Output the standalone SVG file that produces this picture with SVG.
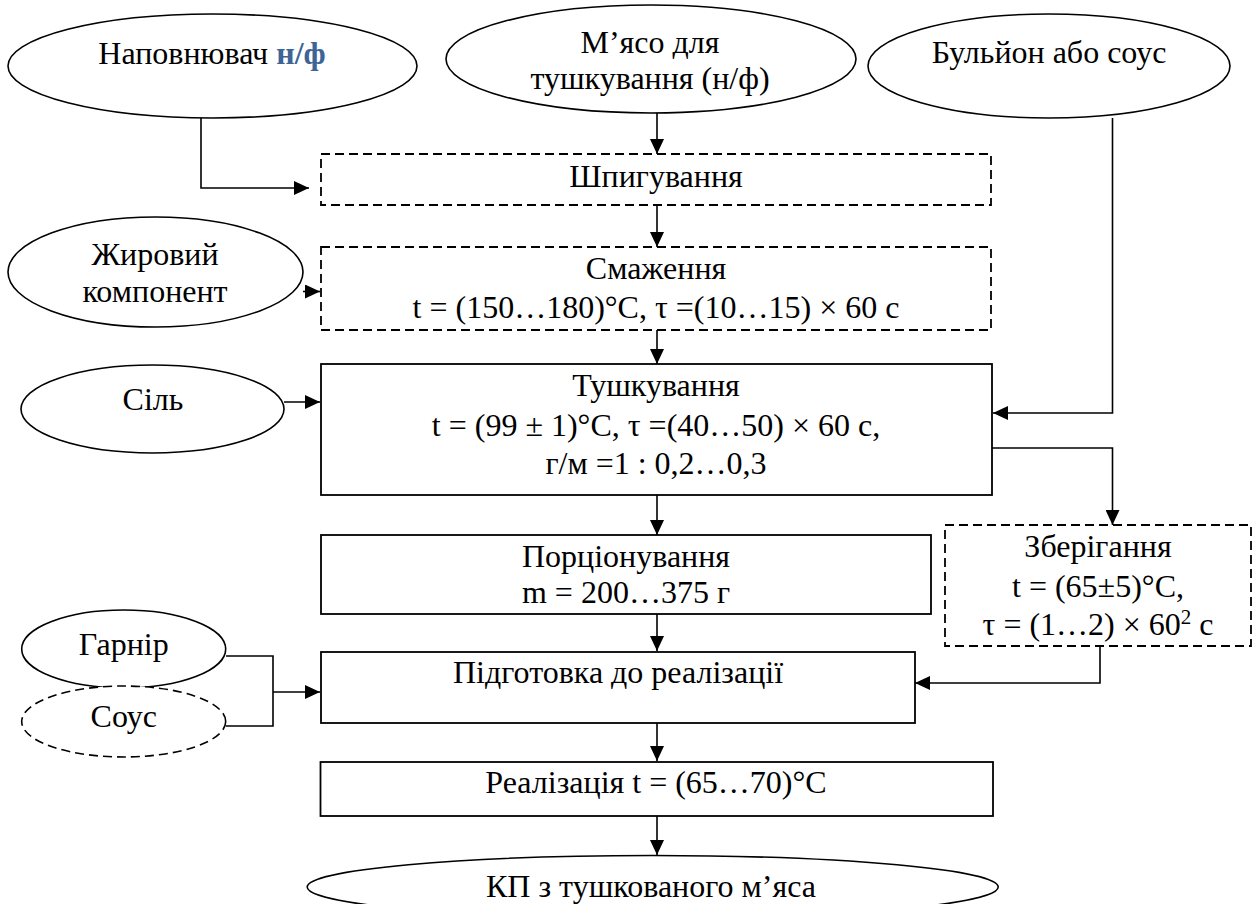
<svg xmlns="http://www.w3.org/2000/svg" width="1253" height="904" viewBox="0 0 1253 904">
<defs>
<marker id="arr" markerUnits="userSpaceOnUse" viewBox="0 0 15 14" refX="15" refY="7" markerWidth="15" markerHeight="14" orient="auto">
<path d="M0,0 L15,7 L0,14 Z" fill="#000"/>
</marker>
<style>
.t{font-family:"Times New Roman","Liberation Serif","DejaVu Serif",serif;font-size:32px;fill:#000;text-anchor:middle}
.el{fill:#fff;stroke:#000;stroke-width:1.6}
.box{fill:#fff;stroke:#000;stroke-width:1.8}
.dash{stroke-dasharray:9 5}
.ln{fill:none;stroke:#000;stroke-width:1.6}
.blue{fill:#3C6496;font-weight:bold}
</style>
</defs>
<rect width="1253" height="904" fill="#fff"/>
<g id="connectors">
<path class="ln" d="M201,118 V188 H309" marker-end="url(#arr)"/>
<path class="ln" d="M657,113 V154" marker-end="url(#arr)"/>
<path class="ln" d="M657,205 V247" marker-end="url(#arr)"/>
<path class="ln" d="M303,291.5 H320" marker-end="url(#arr)"/>
<path class="ln" d="M657,330 V364" marker-end="url(#arr)"/>
<path class="ln" d="M284,402 H320" marker-end="url(#arr)"/>
<path class="ln" d="M1112.5,118 V413 H993" marker-end="url(#arr)"/>
<path class="ln" d="M992,448 H1112.5 V525" marker-end="url(#arr)"/>
<path class="ln" d="M657,495 V535" marker-end="url(#arr)"/>
<path class="ln" d="M657,614 V651" marker-end="url(#arr)"/>
<path class="ln" d="M1100,646 V683 H915" marker-end="url(#arr)"/>
<path class="ln" d="M226,656 H273 V726 H226"/>
<path class="ln" d="M273,692 H320" marker-end="url(#arr)"/>
<path class="ln" d="M657,723 V761" marker-end="url(#arr)"/>
<path class="ln" d="M657,816 V855" marker-end="url(#arr)"/>
</g>
<g id="n-napovniuvach">
<ellipse class="el" cx="212.5" cy="66" rx="204.5" ry="52"/>
<text class="t" x="212" y="64">Наповнювач <tspan class="blue">н/ф</tspan></text>
</g>
<g id="n-miaso">
<ellipse class="el" cx="651" cy="59" rx="205" ry="54"/>
<text class="t" x="650" y="53">М’ясо для</text>
<text class="t" x="650" y="89">тушкування (н/ф)</text>
</g>
<g id="n-bulion">
<ellipse class="el" cx="1049" cy="66" rx="181" ry="52"/>
<text class="t" x="1049" y="63">Бульйон або соус</text>
</g>
<g id="n-shpyhuvannia">
<rect class="box dash" x="321" y="154" width="670" height="51"/>
<text class="t" x="656" y="187">Шпигування</text>
</g>
<g id="n-zhyrovyi">
<ellipse class="el" cx="155.5" cy="272" rx="147.5" ry="55"/>
<text class="t" x="155" y="265">Жировий</text>
<text class="t" x="155" y="302">компонент</text>
</g>
<g id="n-smazhennia">
<rect class="box dash" x="321" y="247" width="670" height="83"/>
<text class="t" x="656" y="279">Смаження</text>
<text class="t" x="656" y="318">t = (150…180)°C, τ =(10…15) × 60 с</text>
</g>
<g id="n-sil">
<ellipse class="el" cx="152.5" cy="409" rx="131.5" ry="44"/>
<text class="t" x="153" y="410">Сіль</text>
</g>
<g id="n-tushkuvannia">
<rect class="box" x="321" y="364" width="671" height="131"/>
<text class="t" x="656" y="396">Тушкування</text>
<text class="t" x="656" y="436">t = (99 ± 1)°C, τ =(40…50) × 60 с,</text>
<text class="t" x="656" y="474">г/м =1 : 0,2…0,3</text>
</g>
<g id="n-portsionuvannia">
<rect class="box" x="321" y="535" width="610" height="79"/>
<text class="t" x="626" y="567">Порціонування</text>
<text class="t" x="626" y="603">m = 200…375 г</text>
</g>
<g id="n-zberihannia">
<rect class="box dash" x="945" y="525" width="306" height="121"/>
<text class="t" x="1098" y="557">Зберігання</text>
<text class="t" x="1098" y="597">t = (65±5)°C,</text>
<text class="t" x="1098" y="635">τ = (1…2) × 60<tspan dy="-11" font-size="21">2</tspan><tspan dy="11"> с</tspan></text>
</g>
<g id="n-harnir">
<ellipse class="el" cx="123.7" cy="649" rx="102" ry="39"/>
<text class="t" x="123.7" y="655">Гарнір</text>
</g>
<g id="n-sous">
<ellipse class="el dash" cx="123.7" cy="721.5" rx="102" ry="35.5"/>
<text class="t" x="123.7" y="727">Соус</text>
</g>
<g id="n-pidhotovka">
<rect class="box" x="321" y="652" width="594" height="71"/>
<text class="t" x="618" y="683">Підготовка до реалізації</text>
</g>
<g id="n-realizatsiia">
<rect class="box" x="320.5" y="762" width="672.5" height="54"/>
<text class="t" x="656" y="793">Реалізація t = (65…70)°C</text>
</g>
<g id="n-kp">
<ellipse class="el" cx="652.7" cy="887" rx="345.5" ry="31.5"/>
<text class="t" x="651" y="897">КП з тушкованого м’яса</text>
</g>
</svg>
